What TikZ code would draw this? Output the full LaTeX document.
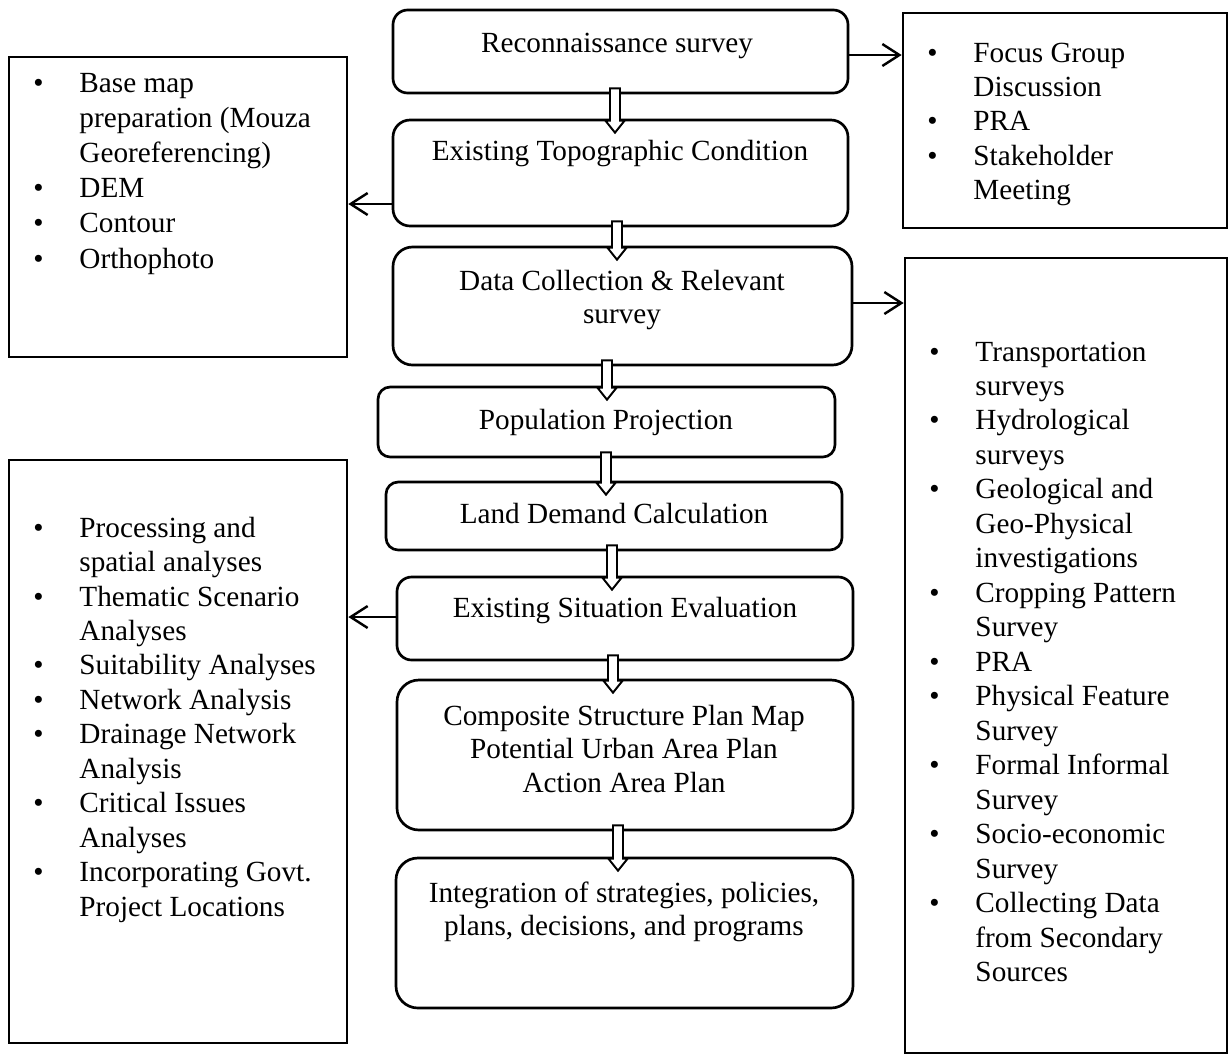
\documentclass[tikz,border=0pt]{standalone}
\usepackage{fontspec}
\setmainfont{Liberation Serif}
\usetikzlibrary{fit,calc,arrows.meta}
\newdimen\px \px=0.4105pt
\newcommand\bul{\makebox[46\px][l]{\textbullet}}
\newcommand\harrow[3]{%
  \draw[hollow] let \p1=(#1.south), \p2=(#2.north), \p3=(#3,0) in
   (\x3-2.05pt,\y1+2.46pt) -- (\x3+2.05pt,\y1+2.46pt) -- (\x3+2.05pt,\y2-5.75pt+4.9pt)
   -- (\x3+3.9pt,\y2-5.75pt+4.9pt) -- (\x3,\y2-5.75pt) -- (\x3-3.9pt,\y2-5.75pt+4.9pt)
   -- (\x3-2.05pt,\y2-5.75pt+4.9pt) -- cycle;}
\tikzset{
  box/.style={draw, line width=1.1pt, inner sep=0pt},
  rbox/.style={box, rounded corners=#1},
  lab/.style={inner sep=0pt, anchor=base, font=\fontsize{12}{13.9}\selectfont},
  lst/.style={inner sep=0pt, anchor=base west, font=\fontsize{12}{14.16}\selectfont},
  arr/.style={line width=1pt, -{Straight Barb[length=7pt,width=9pt]}},
  hollow/.style={draw, fill=white, line width=0.8pt, line join=miter}
}
\begin{document}
\begin{tikzpicture}[x=0.4105pt, y=-0.4105pt]
\useasboundingbox (0,0) rectangle (1229,1055);
% center boxes
\node[rbox=6pt, fit={(393,10) (848,93)}] (recon) {};
\node[rbox=7pt, fit={(393,120) (848,226)}] (topo) {};
\node[rbox=8pt, fit={(393,247) (852,365)}] (data) {};
\node[rbox=5pt, fit={(378,387) (835,457)}] (pop) {};
\node[rbox=5pt, fit={(386,482) (842,550)}] (land) {};
\node[rbox=6pt, fit={(397,577) (853,660)}] (exist) {};
\node[rbox=9pt, fit={(397,680) (853,830)}] (comp) {};
\node[rbox=9pt, fit={(396,858) (853,1008)}] (integ) {};
% side boxes
\node[box, fit={(9,57) (347,357)}] (lb1) {};
\node[box, fit={(9,460) (347,1043)}] (lb2) {};
\node[box, fit={(903,13) (1227,228)}] (rb1) {};
\node[box, fit={(905,258) (1227,1053)}] (rb2) {};
% center texts
\node[lab] (trecon) at (617,52) {\begin{tabular}[t]{@{}c@{}}Reconnaissance survey\end{tabular}};
\node[lab] (ttopo) at (620,160) {\begin{tabular}[t]{@{}c@{}}Existing Topographic Condition\end{tabular}};
\node[lab] (tdata) at (622,290) {\begin{tabular}[t]{@{}c@{}}Data Collection \& Relevant\\ survey\end{tabular}};
\node[lab] (tpop) at (606,429) {\begin{tabular}[t]{@{}c@{}}Population Projection\end{tabular}};
\node[lab] (tland) at (614,523) {\begin{tabular}[t]{@{}c@{}}Land Demand Calculation\end{tabular}};
\node[lab] (texist) at (625,617) {\begin{tabular}[t]{@{}c@{}}Existing Situation Evaluation\end{tabular}};
\node[lab] (tcomp) at (624,725) {\begin{tabular}[t]{@{}c@{}}Composite Structure Plan Map\\ Potential Urban Area Plan\\ Action Area Plan\end{tabular}};
\node[lab] (tinteg) at (624,902) {\begin{tabular}[t]{@{}c@{}}Integration of strategies, policies,\\ plans, decisions, and programs\end{tabular}};
% lists
\node[lst, font=\fontsize{12}{14.45}\selectfont] (tlb1) at (33,92) {\begin{tabular}[t]{@{}l@{}l@{}}
\bul & Base map\\ & preparation (Mouza\\ & Georeferencing)\\
\bul & DEM\\ \bul & Contour\\ \bul & Orthophoto\end{tabular}};
\node[lst] (trb1) at (927,62) {\begin{tabular}[t]{@{}l@{}l@{}}
\bul & Focus Group\\ & Discussion\\ \bul & PRA\\ \bul & Stakeholder\\ & Meeting\end{tabular}};
\node[lst] (tlb2) at (33,537) {\begin{tabular}[t]{@{}l@{}l@{}}
\bul & Processing and\\ & spatial analyses\\
\bul & Thematic Scenario\\ & Analyses\\
\bul & Suitability Analyses\\
\bul & Network Analysis\\
\bul & Drainage Network\\ & Analysis\\
\bul & Critical Issues\\ & Analyses\\
\bul & Incorporating Govt.\\ & Project Locations\end{tabular}};
\node[lst] (trb2) at (929,361) {\begin{tabular}[t]{@{}l@{}l@{}}
\bul & Transportation\\ & surveys\\
\bul & Hydrological\\ & surveys\\
\bul & Geological and\\ & Geo-Physical\\ & investigations\\
\bul & Cropping Pattern\\ & Survey\\
\bul & PRA\\
\bul & Physical Feature\\ & Survey\\
\bul & Formal Informal\\ & Survey\\
\bul & Socio-economic\\ & Survey\\
\bul & Collecting Data\\ & from Secondary\\ & Sources\end{tabular}};
% side arrows
\draw[arr] ($(recon.east)+(0,3.5)$) coordinate (a1) -- (a1 -| rb1.west);
\draw[arr] ($(topo.west)+(0,31)$) coordinate (a2) -- (a2 -| lb1.east);
\draw[arr] ($(data.east)+(0,-3)$) coordinate (a3) -- (a3 -| rb2.west);
\draw[arr] ($(exist.west)+(0,-1.5)$) coordinate (a4) -- (a4 -| lb2.east);
% hollow arrows
\harrow{recon}{topo}{615}
\harrow{topo}{data}{617}
\harrow{data}{pop}{607}
\harrow{pop}{land}{606}
\harrow{land}{exist}{612}
\harrow{exist}{comp}{613}
\harrow{comp}{integ}{618}
\end{tikzpicture}
\end{document}
